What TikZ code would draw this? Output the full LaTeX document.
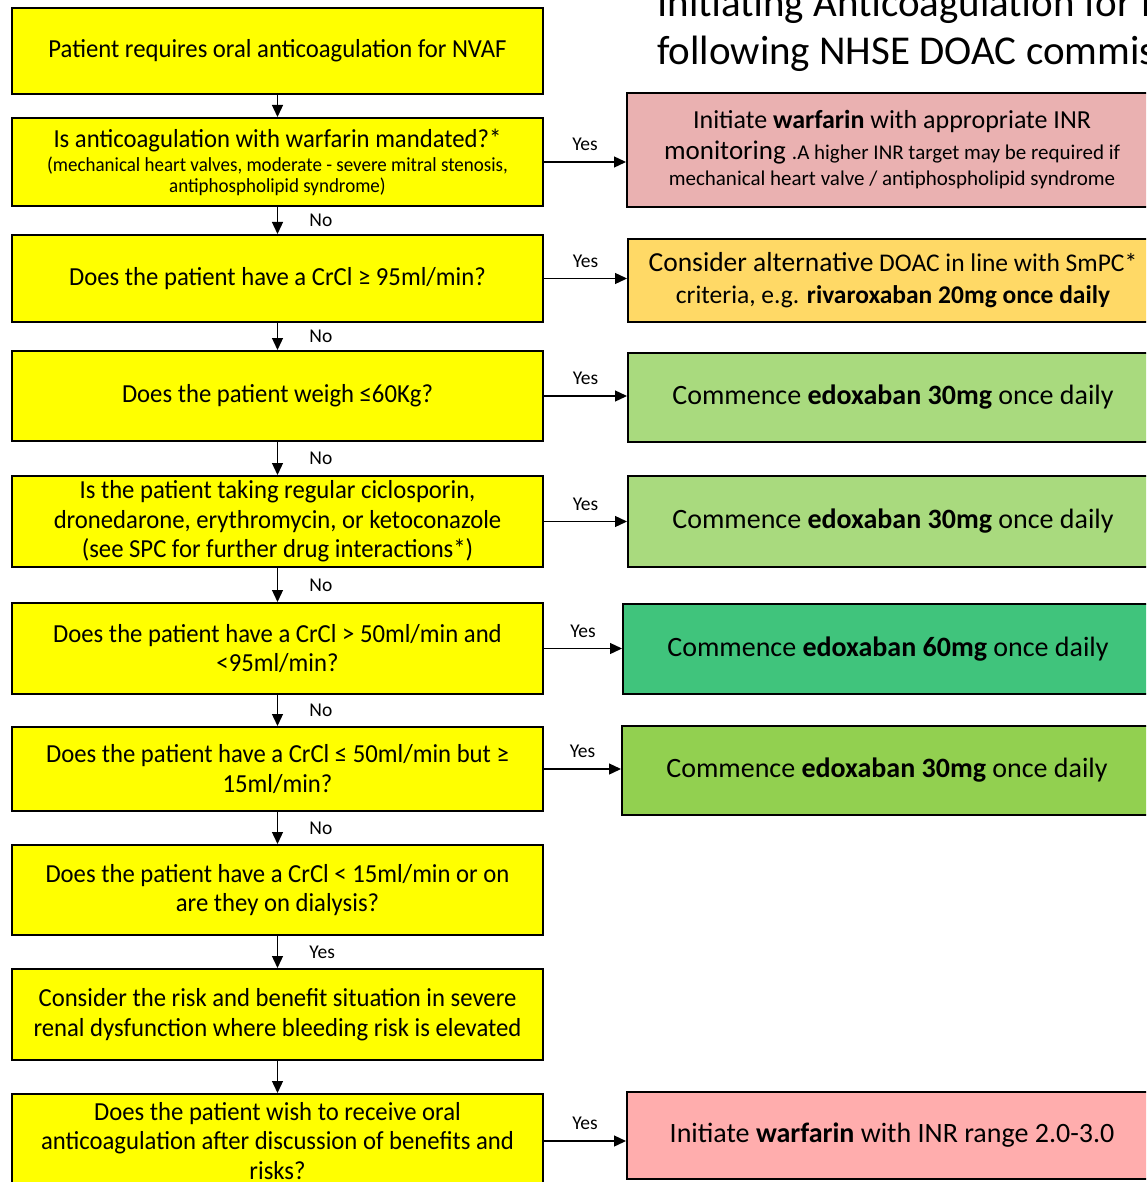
\documentclass[tikz,border=0pt]{standalone}
\usepackage{fontspec}
\setmainfont{Carlito}
\newfontfamily\narrowfont[FakeStretch=0.95]{Carlito}
\usetikzlibrary{positioning,arrows.meta}

\definecolor{qyellow}{HTML}{FFFF00}
\definecolor{warfpink}{HTML}{EAB1B1}
\definecolor{doacorange}{HTML}{FFD966}
\definecolor{edoxlight}{HTML}{A9DA7E}
\definecolor{edoxmid}{HTML}{40C47C}
\definecolor{edoxgreen}{HTML}{92D050}
\definecolor{inrpink}{HTML}{FFADAD}
\newcommand{\fsz}[2]{\fontsize{#1}{#2}\selectfont}

\begin{document}
\begin{tikzpicture}[x=1pt, y=-1pt,
    node distance=27pt,
    question/.style={draw, line width=2pt, fill=qyellow, minimum width=531pt, align=center, inner sep=3pt, font=\narrowfont\fsz{26}{29.5}},
    action/.style={draw, line width=2pt, anchor=north west, minimum width=530pt, align=center, inner sep=3pt, font=\fsz{28}{32}},
    flow/.style={-{Triangle[length=12pt,width=11pt]}, line width=1.3pt},
    answer/.style={font=\fsz{19.5}{22}}
]
\clip (0,0) rectangle (1146,1182);

\node[anchor=west, inner sep=0pt, align=left, font=\fsz{41}{48}] (title) at (657,30) {Initiating Anticoagulation for NVAF\\following NHSE DOAC commissioning};

\node[question, minimum height=86pt] (q1) at (277.5,51) {Patient requires oral anticoagulation for NVAF};
\node[question, below=22pt of q1, minimum height=88pt] (q2) {Is anticoagulation with warfarin mandated?*\\[-5pt]{\fsz{20}{22}(mechanical heart valves, moderate - severe mitral stenosis,}\\[-9pt]{\fsz{20}{22}antiphospholipid syndrome)}};
\node[question, below=of q2, minimum height=87pt] (q3) {Does the patient have a CrCl ≥ 95ml/min?};
\node[question, below=of q3, minimum height=90pt] (q4) {Does the patient weigh ≤60Kg?};
\node[question, below=33pt of q4, minimum height=91pt] (q5) {Is the patient taking regular ciclosporin,\\dronedarone, erythromycin, or ketoconazole\\(see SPC for further drug interactions*)};
\node[question, below=34pt of q5, minimum height=91pt] (q6) {Does the patient have a CrCl > 50ml/min and\\<95ml/min?};
\node[question, below=31pt of q6, minimum height=84pt] (q7) {Does the patient have a CrCl ≤ 50ml/min but ≥\\15ml/min?};
\node[question, below=32pt of q7, minimum height=90pt] (q8) {Does the patient have a CrCl < 15ml/min or on\\are they on dialysis?};
\node[question, below=32pt of q8, minimum height=91pt] (q9) {Consider the risk and benefit situation in severe\\renal dysfunction where bleeding risk is elevated};
\node[question, below=32pt of q9, minimum height=94pt] (q10) {Does the patient wish to receive oral\\anticoagulation after discussion of benefits and\\risks?};

\node[action, fill=warfpink, minimum height=114pt, font=\fsz{26}{31}] (r1) at (626,92) {Initiate \textbf{warfarin} with appropriate INR\\{\fsz{27}{31}monitoring \fsz{21}{31}.A higher INR target may be required if}\\[-5pt]{\fsz{21}{25}mechanical heart valve / antiphospholipid syndrome}};
\node[action, fill=doacorange, minimum height=83pt, font=\fsz{25.5}{32}] (r2) at (627,238) {{\fsz{27.5}{32}Consider alternative} DOAC in line with SmPC*\\criteria, e.g. \textbf{rivaroxaban 20mg once daily}};
\node[action, fill=edoxlight, minimum height=89pt] (r3) at (627,352) {Commence \textbf{edoxaban 30mg} once daily};
\node[action, fill=edoxlight, minimum height=91pt] (r4) at (627,475) {Commence \textbf{edoxaban 30mg} once daily};
\node[action, fill=edoxmid, minimum height=90pt] (r5) at (622,603) {Commence \textbf{edoxaban 60mg} once daily};
\node[action, fill=edoxgreen, minimum height=89pt] (r6) at (621,725) {Commence \textbf{edoxaban 30mg} once daily};
\node[action, fill=inrpink, minimum height=87pt] (r7) at (626,1091) {Initiate \textbf{warfarin} with INR range 2.0-3.0};

\draw[flow] (q1) -- (q2);
\draw[flow] (q2) -- (q3) node[midway, right=28pt, answer] {No};
\draw[flow] (q3) -- (q4) node[midway, right=28pt, answer] {No};
\draw[flow] (q4) -- (q5) node[midway, right=28pt, answer] {No};
\draw[flow] (q5) -- (q6) node[midway, right=28pt, answer] {No};
\draw[flow] (q6) -- (q7) node[midway, right=28pt, answer] {No};
\draw[flow] (q7) -- (q8) node[midway, right=28pt, answer] {No};
\draw[flow] (q8) -- (q9) node[midway, right=28pt, answer] {Yes};
\draw[flow] (q9) -- (q10);

\draw[flow] (q2.east) -- (q2.east -| r1.west) node[midway, above=7pt, answer] {Yes};
\draw[flow] (q3.east) -- (q3.east -| r2.west) node[midway, above=7pt, answer] {Yes};
\draw[flow] (q4.east) -- (q4.east -| r3.west) node[midway, above=7pt, answer] {Yes};
\draw[flow] (q5.east) -- (q5.east -| r4.west) node[midway, above=7pt, answer] {Yes};
\draw[flow] (q6.east) -- (q6.east -| r5.west) node[midway, above=7pt, answer] {Yes};
\draw[flow] (q7.east) -- (q7.east -| r6.west) node[midway, above=7pt, answer] {Yes};
\draw[flow] (q10.east) -- (q10.east -| r7.west) node[midway, above=7pt, answer] {Yes};
\end{tikzpicture}
\end{document}
